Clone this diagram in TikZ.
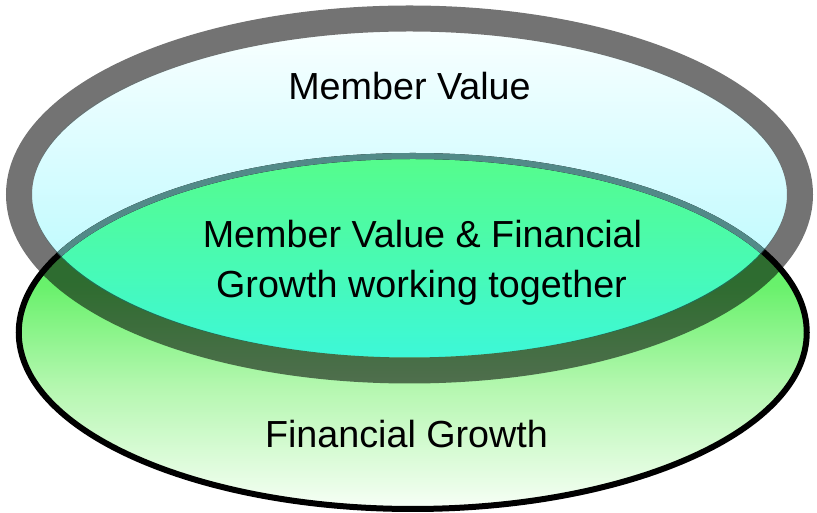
\documentclass[tikz,border=0pt]{standalone}
\usepackage{fontspec}
\setmainfont{Liberation Sans}
\usetikzlibrary{shapes.geometric}
\definecolor{cyanbot}{RGB}{170,248,254}
\definecolor{cyantop}{RGB}{248,255,255}
\definecolor{overtop}{RGB}{86,252,138}
\definecolor{overbot}{RGB}{60,248,218}
\definecolor{tealline}{RGB}{82,138,136}
\definecolor{gA}{RGB}{248,255,248}
\definecolor{gB}{RGB}{234,253,232}
\definecolor{gC}{RGB}{180,247,175}
\definecolor{gD}{RGB}{105,241,108}
\definecolor{gE}{RGB}{88,240,98}
\pgfdeclareverticalshading{greenfill}{100bp}{
  color(0bp)=(gA);
  color(25bp)=(gA);
  color(28.3bp)=(gB);
  color(42.4bp)=(gC);
  color(56.6bp)=(gD);
  color(75bp)=(gE);
  color(100bp)=(gE)}
\tikzset{
  lbl/.style={font=\fontsize{37.7}{50}\selectfont, text=black, inner sep=0pt, anchor=base},
  topring/.style={draw=black, draw opacity=0.55, line width=26pt},
  botring/.style={draw=black, line width=6pt}
}
\begin{document}
\begin{tikzpicture}[x=1pt,y=1pt]
\useasboundingbox (0,0) rectangle (817,513);
% top ellipse fill (inside the ring only)
\shade[top color=cyantop, bottom color=cyanbot]
  (409.5,318.5) ellipse [x radius=377.5pt, y radius=163pt];
% bottom ellipse fill
\shade[shading=greenfill]
  (412.75,180.5) ellipse [x radius=394pt, y radius=176.5pt];
% overlap
\begin{scope}
  \clip (412.75,180.5) ellipse [x radius=394pt, y radius=176.5pt];
  \clip (409.5,318.5) ellipse [x radius=377.5pt, y radius=163pt];
  \shade[top color=overtop, bottom color=overbot] (0,150) rectangle (817,360);
\end{scope}
% bottom border
\draw[botring] (412.75,180.5) ellipse [x radius=394pt, y radius=176.5pt];
\begin{scope}
  \clip (409.5,318.5) ellipse [x radius=377.5pt, y radius=163pt];
  \draw[botring, draw=tealline] (412.75,180.5) ellipse [x radius=394pt, y radius=176.5pt];
\end{scope}
% top border
\draw[topring] (409.5,318.5) ellipse [x radius=390.5pt, y radius=176pt];
% labels
\node[lbl] (mv) at (409.5,413) {Member Value};
\node[lbl] (mid1) at (422.5,265) {Member Value \& Financial};
\node[lbl] (mid2) at (421.5,215) {Growth working together};
\node[lbl] (fg) at (406.5,65) {Financial Growth};
\end{tikzpicture}
\end{document}
